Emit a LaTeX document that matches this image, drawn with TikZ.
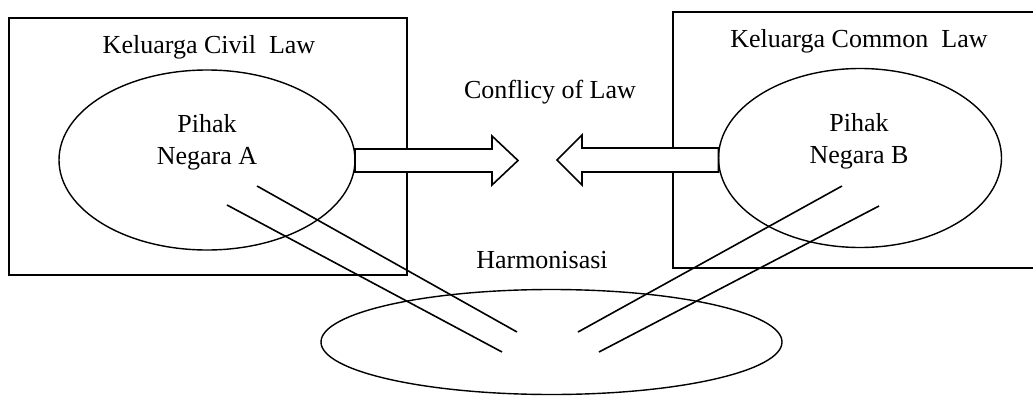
\documentclass[tikz,border=0pt]{standalone}
\usepackage{fontspec}
\setmainfont{Liberation Serif}
\usetikzlibrary{positioning,calc,shapes.geometric}
\tikzset{
  flow/.style={line width=1.6pt},
  frame/.style={draw,line width=1.6pt,inner sep=0pt,outer sep=0pt},
  oval/.style={draw,ellipse,fill=white,line width=1.4pt,inner sep=0pt,outer sep=0pt},
  lbl/.style={font=\fontsize{26}{32}\selectfont,inner sep=0pt,align=center},
  fat/.style={draw,fill=white,line width=1.6pt,line join=miter},
}
\begin{document}
\begin{tikzpicture}[x=1pt,y=-1pt,flow]
\useasboundingbox (0,0) rectangle (1033,396);
% the two legal families
\node[frame,anchor=north west,minimum width=398pt,minimum height=257pt] (civ) at (9,18) {};
\node[frame,anchor=north west,minimum width=380pt,minimum height=256pt] (com) at (673,12) {};
\node[oval,minimum width=296pt,minimum height=180pt] (pa) at (207,160) {};
\node[oval,minimum width=283pt,minimum height=179pt] (pb) at (860,158) {};
\node[oval,minimum width=461pt,minimum height=105pt] (harm) at (551.5,342) {};
% labels
\node[lbl,anchor=base] (civlbl) at (209,53) {Keluarga Civil\ \ Law};
\node[lbl,anchor=base] (comlbl) at (859,48) {Keluarga Common\ \ Law};
\node[lbl] (palbl) at (207,142) {Pihak\\Negara A};
\node[lbl] (pblbl) at (859,141) {Pihak\\Negara B};
\node[lbl,anchor=base] (conf) at (550,99) {Conflicy of Law};
\node[lbl,anchor=base] (harmlbl) at (542,268) {Harmonisasi};
% block arrows
\draw[fat] ($(pa.east)+(0,-11)$) -- ++(137,0) -- ++(0,-13) -- ++(26,24.5)
  -- ++(-26,24.5) -- ++(0,-13) -- ++(-137,0) -- cycle;
\draw[fat] ($(pb.west)+(0,-10)$) -- ++(-136.5,0) -- ++(0,-13) -- ++(-25,25)
  -- ++(25,25) -- ++(0,-13) -- ++(136.5,0) -- cycle;
% lines down to the harmonisation
\coordinate (la1) at (257,186);
\coordinate (la1e) at (517,332);
\coordinate (la2) at (227,205);
\coordinate (la2e) at (502,352);
\coordinate (lb1) at (842,186);
\coordinate (lb1e) at (578,332);
\coordinate (lb2) at (879,206);
\coordinate (lb2e) at (599,352);
\draw (la1) -- (la1e);
\draw (la2) -- (la2e);
\draw (lb1) -- (lb1e);
\draw (lb2) -- (lb2e);
\end{tikzpicture}
\end{document}
